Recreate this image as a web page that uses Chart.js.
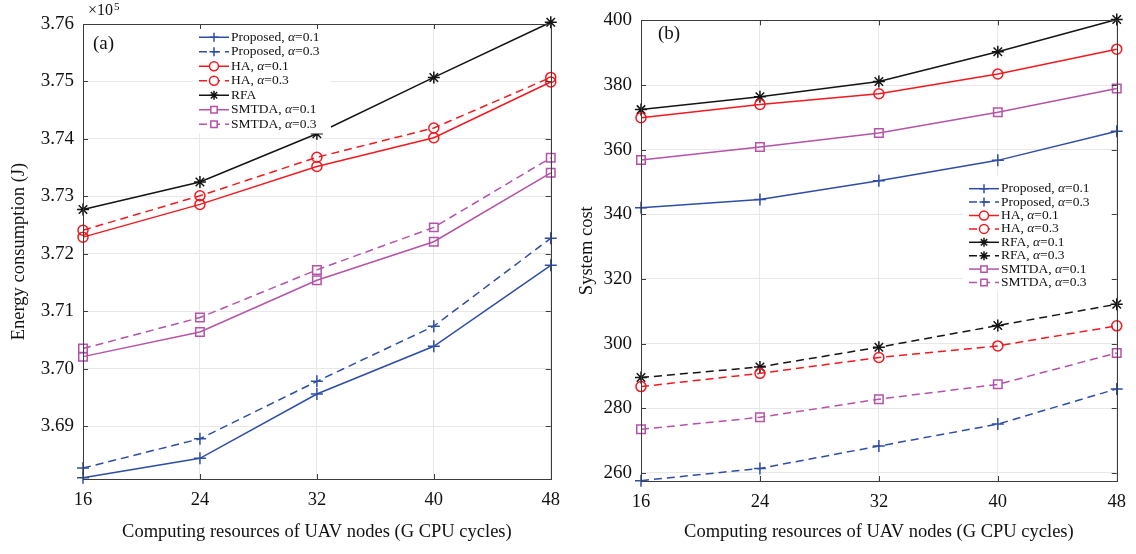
<!DOCTYPE html>
<html>
<head>
<meta charset="utf-8">
<script src="https://cdn.jsdelivr.net/npm/chart.js@4/dist/chart.umd.min.js"></script>
<style>
  html, body { margin: 0; padding: 0; background: #fff; }
  #wrap { position: relative; width: 1136px; height: 554px; }
  canvas { position: absolute; top: 0; }
  #chartA { left: 0; }
  #chartB { left: 570px; }
</style>
</head>
<body>
<div id="wrap">
  <canvas id="chartA" width="570" height="554"></canvas>
  <canvas id="chartB" width="566" height="554"></canvas>
</div>
<script>
// x axis: computing resources (G CPU cycles)
const cpuCycles = ["16", "24", "32", "40", "48"];

// (a) energy consumption, in units of 10^5 J
const energyProposed01 = [3.6810, 3.6844, 3.6956, 3.7039, 3.7180];
const energyProposed03 = [3.6827, 3.6878, 3.6978, 3.7074, 3.7227];
const energyHA01 = [3.7229, 3.7286, 3.7352, 3.7402, 3.7499];
const energyHA03 = [3.7241, 3.7301, 3.7368, 3.7419, 3.7507];
const energyRFA = [3.7277, 3.7325, 3.7409, 3.7507, 3.7603];
const energySMTDA01 = [3.7021, 3.7064, 3.7154, 3.7221, 3.7341];
const energySMTDA03 = [3.7035, 3.7089, 3.7172, 3.7246, 3.7367];
const energyTicks = [3.69, 3.70, 3.71, 3.72, 3.73, 3.74, 3.75, 3.76];

// (b) system cost
const costProposed01 = [342.0, 344.6, 350.4, 356.7, 365.7];
const costProposed03 = [257.6, 261.4, 268.3, 275.1, 286.0];
const costHA01 = [369.9, 374.0, 377.3, 383.4, 391.1];
const costHA03 = [286.7, 290.8, 295.7, 299.3, 305.5];
const costRFA01 = [372.4, 376.4, 381.1, 390.3, 400.3];
const costRFA03 = [289.5, 292.8, 298.9, 305.6, 312.2];
const costSMTDA01 = [356.8, 360.8, 365.2, 371.6, 378.9];
const costSMTDA03 = [273.5, 277.2, 282.8, 287.4, 297.1];
const costTicks = [260, 280, 300, 320, 340, 360, 380, 400];

const BLUE = "#2e4ea6";
const RED = "#f2191f";
const BLACK = "#141414";
const PURPLE = "#b553a8";
const FONT = "'Liberation Serif', 'Times New Roman', serif";
const DASH = [8, 5];

// one line series, MATLAB look: thin line, hollow marker
function series(label, data, color, marker, dashed) {
  let radius = 5;
  if (marker === "cross") radius = 6;
  if (marker === "rect") radius = 6;
  if (marker === "star") radius = 6;
  return {
    label: label,
    data: data,
    borderColor: color,
    backgroundColor: color,
    borderWidth: 1.5,
    borderDash: dashed ? DASH : [],
    pointStyle: marker,
    pointRadius: radius,
    pointBorderWidth: 1.5,
    pointBackgroundColor: "rgba(0,0,0,0)",
    pointBorderColor: color,
    tension: 0,
    clip: false,
  };
}

// box round the plot area plus inward ticks on all four sides
const boxPlugin = {
  id: "box",
  afterDraw(chart) {
    const { ctx, chartArea: a, scales } = chart;
    ctx.save();
    ctx.strokeStyle = "#3c3c3c";
    ctx.lineWidth = 1;
    ctx.beginPath();
    scales.y.ticks.forEach((t) => {
      const y = Math.round(scales.y.getPixelForValue(t.value)) + 0.5;
      ctx.moveTo(a.left, y); ctx.lineTo(a.left + 5, y);
      ctx.moveTo(a.right, y); ctx.lineTo(a.right - 5, y);
    });
    scales.x.ticks.forEach((t, i) => {
      const x = Math.round(scales.x.getPixelForTick(i)) + 0.5;
      ctx.moveTo(x, a.bottom); ctx.lineTo(x, a.bottom - 5);
      ctx.moveTo(x, a.top); ctx.lineTo(x, a.top + 5);
    });
    ctx.stroke();
    ctx.strokeRect(Math.round(a.left) + 0.5, Math.round(a.top) + 0.5,
      Math.round(a.right - a.left), Math.round(a.bottom - a.top));
    ctx.restore();
  },
};

// legend drawn inside the axes: line sample with marker in the middle
const insideLegend = {
  id: "insideLegend",
  afterDatasetsDraw(chart, args, opts) {
    const { ctx } = chart;
    const sets = chart.data.datasets;
    ctx.save();
    ctx.fillStyle = "#fff";
    ctx.fillRect(opts.x, opts.y, opts.w, opts.rowH * sets.length + 8);
    sets.forEach((ds, i) => {
      const cy = opts.y + 6 + opts.rowH * (i + 0.5);
      const x0 = opts.x + 6, x1 = x0 + 30;
      ctx.strokeStyle = ds.borderColor;
      ctx.lineWidth = 1.5;
      ctx.setLineDash(ds.borderDash);
      ctx.beginPath();
      ctx.moveTo(x0, cy); ctx.lineTo(x1, cy);
      ctx.stroke();
      ctx.setLineDash([]);
      ctx.fillStyle = "#fff";
      Chart.helpers.drawPoint(ctx, {
        pointStyle: ds.pointStyle, radius: 4.5, rotation: 0, borderWidth: 1.5,
      }, (x0 + x1) / 2, cy);
      // label, with the alpha in italics
      ctx.fillStyle = "#111";
      ctx.textBaseline = "middle";
      let tx = x1 + 2;
      const parts = ds.label.split("α");
      ctx.font = "13.5px " + FONT;
      ctx.fillText(parts[0], tx, cy);
      tx += ctx.measureText(parts[0]).width;
      if (parts.length > 1) {
        ctx.font = "italic 13.5px " + FONT;
        ctx.fillText("α", tx, cy);
        tx += ctx.measureText("α").width;
        ctx.font = "13.5px " + FONT;
        ctx.fillText(parts[1], tx, cy);
      }
    });
    ctx.restore();
  },
};

// panel tag "(a)" / "(b)" and the x10^5 exponent
const annotations = {
  id: "annotations",
  afterDraw(chart, args, opts) {
    const { ctx } = chart;
    ctx.save();
    ctx.fillStyle = "#111";
    ctx.textBaseline = "middle";
    ctx.font = "19px " + FONT;
    ctx.fillText(opts.tag, opts.tagX, opts.tagY);
    if (opts.exponent) {
      ctx.font = "16px " + FONT;
      ctx.fillText("×10", 88, 11);
      ctx.font = "11px " + FONT;
      ctx.fillText("5", 114, 7);
    }
    ctx.restore();
  },
};

function makeChart(id, datasets, cfg) {
  return new Chart(document.getElementById(id), {
    type: "line",
    data: { labels: cpuCycles, datasets: datasets },
    plugins: [boxPlugin, insideLegend, annotations],
    options: {
      responsive: false,
      animation: false,
      layout: { padding: { top: cfg.top, right: cfg.right, left: 0, bottom: 0 } },
      plugins: {
        legend: { display: false },
        tooltip: { enabled: false },
        insideLegend: cfg.legend,
        annotations: cfg.notes,
      },
      scales: {
        x: {
          offset: false,
          grid: { color: "#e8e8e8", drawTicks: false },
          border: { display: false },
          ticks: { color: "#111", font: { family: FONT, size: 18.5 }, padding: 10, maxRotation: 0 },
          title: {
            display: true,
            text: "Computing resources of UAV nodes (G CPU cycles)",
            color: "#111",
            font: { family: FONT, size: 18.5 },
            padding: { top: 0, bottom: 11 },
          },
          afterFit(scale) { scale.height = cfg.xHeight; },
        },
        y: {
          min: cfg.yMin,
          max: cfg.yMax,
          grid: { color: "#e8e8e8", drawTicks: false },
          border: { display: false },
          afterBuildTicks(scale) { scale.ticks = cfg.ticks.map((v) => ({ value: v })); },
          ticks: {
            color: "#111",
            font: { family: FONT, size: 19 },
            padding: 9,
            callback: cfg.fmt,
          },
          title: {
            display: true,
            text: cfg.yTitle,
            color: "#111",
            font: { family: FONT, size: 18.5 },
            padding: { top: cfg.yTitlePad, bottom: 0 },
          },
          afterFit(scale) { scale.width = cfg.yWidth; },
        },
      },
    },
  });
}

makeChart("chartA", [
  series("Proposed, α=0.1", energyProposed01, BLUE, "cross", false),
  series("Proposed, α=0.3", energyProposed03, BLUE, "cross", true),
  series("HA, α=0.1", energyHA01, RED, "circle", false),
  series("HA, α=0.3", energyHA03, RED, "circle", true),
  series("RFA", energyRFA, BLACK, "star", false),
  series("SMTDA, α=0.1", energySMTDA01, PURPLE, "rect", false),
  series("SMTDA, α=0.3", energySMTDA03, PURPLE, "rect", true),
], {
  top: 24, right: 17, xHeight: 75, yWidth: 83,
  yMin: 3.6808, yMax: 3.76, ticks: energyTicks,
  fmt: (v) => Number(v).toFixed(2),
  yTitle: "Energy consumption (J)", yTitlePad: 8,
  legend: { x: 193, y: 24, w: 138, rowH: 14.5 },
  notes: { tag: "(a)", tagX: 93, tagY: 44, exponent: true },
});

makeChart("chartB", [
  series("Proposed, α=0.1", costProposed01, BLUE, "cross", false),
  series("Proposed, α=0.3", costProposed03, BLUE, "cross", true),
  series("HA, α=0.1", costHA01, RED, "circle", false),
  series("HA, α=0.3", costHA03, RED, "circle", true),
  series("RFA, α=0.1", costRFA01, BLACK, "star", false),
  series("RFA, α=0.3", costRFA03, BLACK, "star", true),
  series("SMTDA, α=0.1", costSMTDA01, PURPLE, "rect", false),
  series("SMTDA, α=0.3", costSMTDA03, PURPLE, "rect", true),
], {
  top: 15, right: 18, xHeight: 73, yWidth: 71,
  yMin: 257.5, yMax: 400, ticks: costTicks,
  fmt: (v) => String(v),
  yTitle: "System cost", yTitlePad: 6,
  legend: { x: 393, y: 176, w: 152, rowH: 13.4 },
  notes: { tag: "(b)", tagX: 88, tagY: 34, exponent: false },
});
</script>
</body>
</html>
